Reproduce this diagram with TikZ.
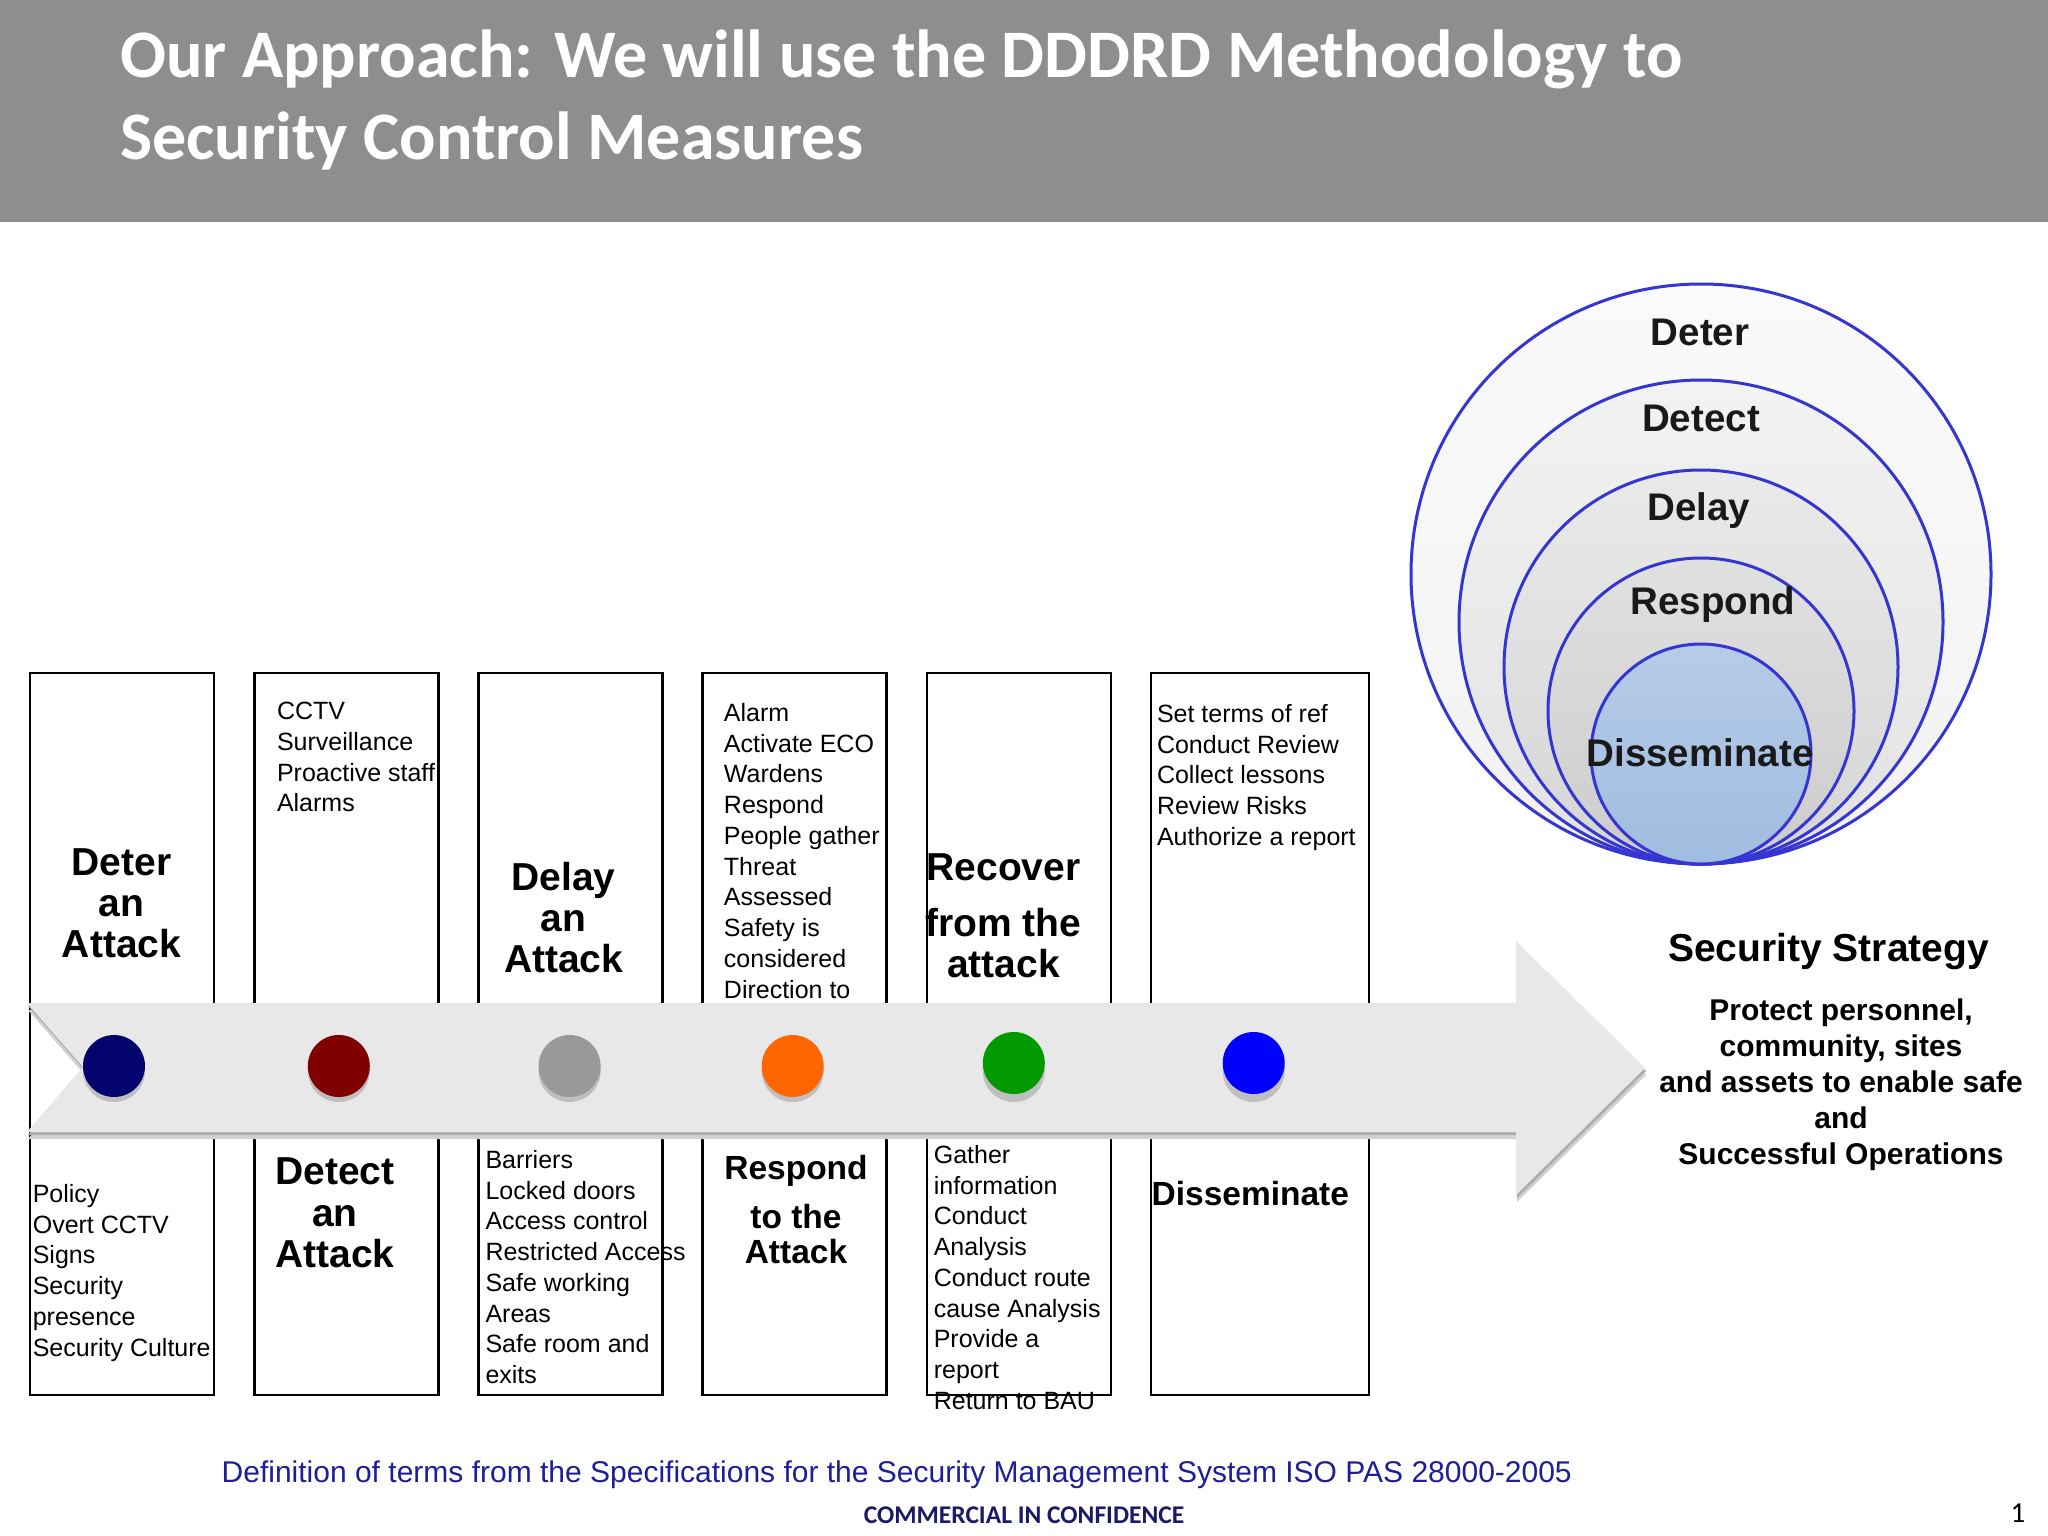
\documentclass[tikz,border=0pt]{standalone}
\usepackage{fontspec}
\setmainfont{Liberation Sans}
\newfontfamily\calibri{Carlito}
\definecolor{hdr}{HTML}{8E8E8E}
\definecolor{bandc}{HTML}{E8E8E8}
\definecolor{ringblue}{HTML}{3535D4}
\definecolor{dnavy}{HTML}{03036E}
\definecolor{dred}{HTML}{800000}
\definecolor{dgray}{HTML}{999999}
\definecolor{dorange}{HTML}{FF6600}
\definecolor{dgreen}{HTML}{009900}
\definecolor{dblue}{HTML}{0000FF}
\definecolor{footblue}{HTML}{1E1E96}
\definecolor{confnavy}{HTML}{1A1A66}
\begin{document}
\begin{tikzpicture}[x=1pt,y=-1pt,
  box/.style={draw=black, line width=2.5pt, fill=white, inner sep=0pt},
  ltxt/.style={anchor=north west, inner sep=0pt, align=left, font=\fontsize{25}{30.75}\selectfont},
  btitle/.style={anchor=north, inner sep=0pt, align=center, font=\bfseries\fontsize{39}{41.3}\selectfont},
  stitle/.style={anchor=north, inner sep=0pt, align=center, font=\bfseries\fontsize{33.5}{36}\selectfont},
  dot/.style={circle, draw=none, minimum size=62pt, inner sep=0pt},
  ring/.style={draw=ringblue, line width=3pt},
  rlabel/.style={anchor=base, inner sep=0pt, text=black!90, font=\bfseries\fontsize{38.5}{40}\selectfont},
  titletxt/.style={anchor=base west, inner sep=0pt, text=white, font=\calibri\bfseries\fontsize{68}{80}\selectfont}
]
\useasboundingbox (0,0) rectangle (2048,1536);
\fill[white] (0,0) rectangle (2048,1536);
% header
\fill[hdr] (0,0) rectangle (2048,222);
\node[titletxt] (title1) at (120,78) {Our Approach: We will use the DDDRD Methodology to};
\node[titletxt] (title2) at (120,160) {Security Control Measures};

% concentric rings
\shadedraw[ring, top color=white!96!gray, bottom color=white!90!gray] (1701,574) circle[radius=290pt];
\shadedraw[ring, top color=white!90!gray, bottom color=white!77!gray] (1701,622) circle[radius=242pt];
\shadedraw[ring, top color=white!83!gray, bottom color=white!67!gray] (1701,667) circle[radius=197pt];
\shadedraw[ring, top color=white!76!gray, bottom color=white!60!gray] (1701,711) circle[radius=153pt];
\shadedraw[ring, top color={rgb,255:red,182;green,204;blue,232}, bottom color={rgb,255:red,160;green,188;blue,224}] (1701,754) circle[radius=110pt];
\node[rlabel] (lDeter) at (1700,345) {Deter};
\node[rlabel] (lDetect) at (1701,431) {Detect};
\node[rlabel] (lDelay) at (1699,520) {Delay};
\node[rlabel] (lRespond) at (1713,614) {Respond};
\node[rlabel] (lDiss) at (1700,766) {Disseminate};

% boxes
\node[box, minimum width=184pt, minimum height=722pt] (b1) at (122,1034) {};
\node[box, minimum width=184pt, minimum height=722pt] (b2) at (346.5,1034) {};
\node[box, minimum width=184pt, minimum height=722pt] (b3) at (570.5,1034) {};
\node[box, minimum width=184pt, minimum height=722pt] (b4) at (794.25,1034) {};
\node[box, minimum width=184pt, minimum height=722pt] (b5) at (1019,1034) {};
\node[box, minimum width=218pt, minimum height=722pt] (b6) at (1260,1034) {};

% box texts
\node[btitle] (t1) at (121.6,848) {Deter\\an\\Attack};
\node[btitle, font=\bfseries\fontsize{39}{41}\selectfont] (t3) at (563.6,862) {Delay\\an\\Attack};
\node[btitle] (t5) at (1003.5,853) {Recover\\[15.2pt]from the\\[-0.8pt]attack};
\node[btitle, font=\bfseries\fontsize{39}{41.7}\selectfont] (t2) at (334.8,1157.5) {Detect\\an\\Attack};
\node[stitle] (t4) at (796,1155) {Respond\\[13pt]to the\\[-1.4pt]Attack};
\node[stitle] (t6) at (1250.3,1181) {Disseminate};

\node[ltxt] (l1) at (32.6,1184) {Policy\\Overt CCTV\\Signs\\Security\\presence\\Security Culture};
\node[ltxt] (l2) at (276.8,702) {CCTV\\Surveillance\\Proactive staff\\Alarms};
\node[ltxt] (l3) at (485.3,1150) {Barriers\\Locked doors\\Access control\\Restricted Access\\Safe working\\Areas\\Safe room and\\exits};
\node[ltxt] (l4) at (723.75,703) {Alarm\\Activate ECO\\Wardens\\Respond\\People gather\\Threat\\Assessed\\Safety is\\considered\\Direction to};
\node[ltxt] (l5) at (933.6,1145) {Gather\\information\\Conduct\\Analysis\\Conduct route\\cause Analysis\\Provide a\\report\\Return to BAU};
\node[ltxt] (l6) at (1156.8,704) {Set terms of ref\\Conduct Review\\Collect lessons\\Review Risks\\Authorize a report};

% arrow band with shadow
\fill[black!18, shift={(1,7)}] (27,1003) -- (1516,1003) -- (1516,941) -- (1645,1068) -- (1516,1195) -- (1516,1132) -- (27,1132) -- (83,1067) -- cycle;
\fill[black!32, shift={(1,3)}] (27,1003) -- (1516,1003) -- (1516,941) -- (1645,1068) -- (1516,1195) -- (1516,1132) -- (27,1132) -- (83,1067) -- cycle;
\fill[bandc] (27,1003) -- (1516,1003) -- (1516,941) -- (1645,1068) -- (1516,1195) -- (1516,1132) -- (27,1132) -- (83,1067) -- cycle;

% dots with shadows
\foreach \x in {114,338.8,569.6,792.7,1013.8,1253.7} {\fill[black!25] (\x,1071) circle[radius=31pt];}
\node[dot, fill=dnavy] (d1) at (114,1066) {};
\node[dot, fill=dred] (d2) at (338.8,1066) {};
\node[dot, fill=dgray] (d3) at (569.6,1066) {};
\node[dot, fill=dorange] (d4) at (792.7,1066) {};
\node[dot, fill=dgreen] (d5) at (1013.8,1063) {};
\node[dot, fill=dblue] (d6) at (1253.7,1063) {};

% strategy text
\node[anchor=base, inner sep=0pt, font=\bfseries\fontsize{39}{41}\selectfont] (strat) at (1828.6,961.5) {Security Strategy};
\node[anchor=north, inner sep=0pt, align=center, font=\bfseries\fontsize{30}{36}\selectfont] (goal) at (1841,998.5) {Protect personnel,\\community, sites\\and assets to enable safe\\and\\Successful Operations};

% footer
\node[anchor=base east, inner sep=0pt, text=footblue, font=\fontsize{30}{31}\selectfont] (def) at (1572,1482) {Definition of terms from the Specifications for the Security Management System ISO PAS 28000-2005};
\node[anchor=base, inner sep=0pt, text=confnavy, font=\calibri\bfseries\fontsize{25.5}{27}\selectfont] (conf) at (1024,1523) {COMMERCIAL IN CONFIDENCE};
\node[anchor=base, inner sep=0pt, font=\calibri\fontsize{29}{30}\selectfont] (pg) at (2018,1522) {1};
\end{tikzpicture}
\end{document}
